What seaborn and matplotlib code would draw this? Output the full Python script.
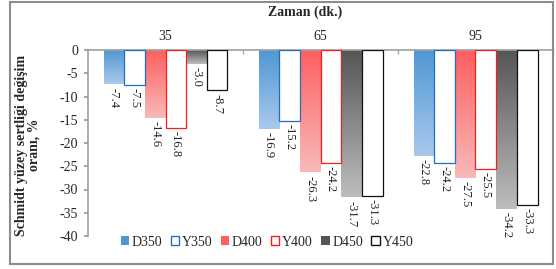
import numpy as np
import pandas as pd
import matplotlib
matplotlib.use("Agg")
import matplotlib.pyplot as plt
import seaborn as sns
from matplotlib.colors import LinearSegmentedColormap
from matplotlib.patches import Rectangle

categories = ["35", "65", "95"]
series = ["D350", "Y350", "D400", "Y400", "D450", "Y450"]
D350 = [-7.4, -16.9, -22.8]
Y350 = [-7.5, -15.2, -24.2]
D400 = [-14.6, -26.3, -27.5]
Y400 = [-16.8, -24.2, -25.5]
D450 = [-3.0, -31.7, -34.2]
Y450 = [-8.7, -31.3, -33.3]
yticks = [0, -5, -10, -15, -20, -25, -30, -35, -40]

values = {"D350": D350, "Y350": Y350, "D400": D400, "Y400": Y400, "D450": D450, "Y450": Y450}
rows = []
for s in series:
    for c, v in zip(categories, values[s]):
        rows.append({"Zaman": c, "Seri": s, "Deger": v})
df = pd.DataFrame(rows)

base = {"D350": "#4f97d4", "Y350": "#1f6fc0", "D400": "#ff5f5f", "Y400": "#ff1a1a",
        "D450": "#555555", "Y450": "#111111"}
light = {"D350": "#a9c9ec", "D400": "#f7b9b9", "D450": "#bdbdbd"}

sns.set_theme(style="white")
plt.rcParams["font.family"] = ["Liberation Serif", "DejaVu Serif"]

fig = plt.figure(figsize=(5.56, 2.69), dpi=100)
ax = fig.add_axes([88/556, 1-236/269, (553-88)/556, (236-50)/269])

sns.barplot(data=df, x="Zaman", y="Deger", hue="Seri", order=categories, hue_order=series,
            palette=[base[s] for s in series], width=0.8, ax=ax, legend=False, saturation=1)

handles = []
for s, cont in zip(series, ax.containers):
    for bar, v in zip(cont.patches, values[s]):
        x0 = bar.get_x(); w = bar.get_width()
        if s.startswith("D"):
            bar.set_facecolor("none")
            bar.set_edgecolor("none")
            cmap = LinearSegmentedColormap.from_list(s, [base[s], light[s]])
            grad = np.linspace(0, 1, 100).reshape(-1, 1)
            im = ax.imshow(grad, cmap=cmap, aspect="auto", extent=[x0, x0 + w, v, 0],
                           origin="upper", zorder=2)
            im.set_clip_path(bar)
        else:
            bar.set_facecolor("white")
            bar.set_edgecolor(base[s])
            bar.set_linewidth(0.9)
            bar.set_zorder(3)
        ax.text(x0 + w/2, v - 0.7, f"{v:.1f}", rotation=270, ha="center", va="top",
                fontsize=9, color="#222222")
    if s.startswith("D"):
        handles.append(Rectangle((0, 0), 1, 1, facecolor=base[s], edgecolor="none"))
    else:
        handles.append(Rectangle((0, 0), 1, 1, facecolor="white", edgecolor=base[s], linewidth=1))

ax.set_xlim(-0.5, 2.5)
ax.set_ylim(-40, 0)
ax.set_yticks(yticks)
ax.set_yticklabels([str(t) for t in yticks], fontsize=10)
ax.xaxis.tick_top()
ax.xaxis.set_label_position("top")
ax.set_xticks(range(3))
ax.set_xticklabels(categories, fontsize=10)
ax.tick_params(axis="x", length=0, pad=5)
ax.tick_params(axis="y", length=3, color="#999999", left=True, pad=4)
ax.set_xticks([0.5, 1.5, 2.5], minor=True)
ax.tick_params(axis="x", which="minor", length=3, color="#aaaaaa", direction="in", top=True)
ax.set_xlabel("")
ax.set_ylabel("")
for sp in ["right", "bottom"]:
    ax.spines[sp].set_visible(False)
for sp in ["left", "top"]:
    ax.spines[sp].set_color("#a0a0a0")
    ax.spines[sp].set_linewidth(1.2)

fig.text(305/556, 1-12/269, "Zaman (dk.)", ha="center", va="center", fontsize=10, fontweight="bold")
fig.text(28/556, 1-145/269, "Schmidt yüzey sertliği değişim\noranı, %", ha="center", va="center",
         rotation=90, fontsize=10, fontweight="bold", linespacing=1.0)

fig.legend(handles, series, loc="center", bbox_to_anchor=(267/556, 1-242/269), ncol=6, frameon=False,
           fontsize=10, handlelength=0.6, handleheight=0.6, handletextpad=0.2, columnspacing=0.6,
           borderpad=0)

fig.patches.append(Rectangle((10/556, 1-264/269), 543/556, 262/269, transform=fig.transFigure,
                             fill=False, edgecolor="#8c8c8c", linewidth=1.5))

fig.savefig("out.png", dpi=100)
